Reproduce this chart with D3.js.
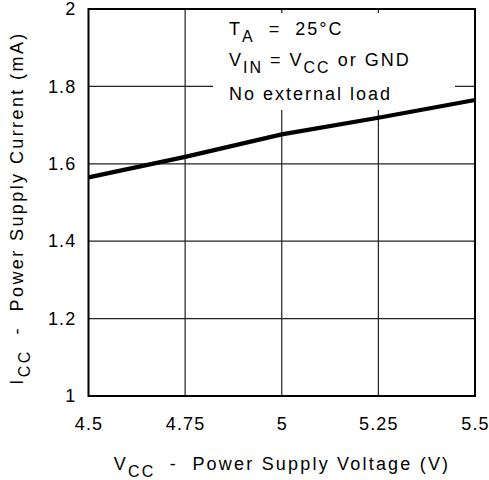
<!DOCTYPE html>
<html>
<head>
<meta charset="utf-8">
<script src="https://cdn.jsdelivr.net/npm/d3@7"></script>
<style>
  body { margin: 0; background: #fff; }
  text { font-family: 'Liberation Sans', Arial, sans-serif; fill: #000; white-space: pre; }
</style>
</head>
<body>
<svg id="chart" width="489" height="480"></svg>
<script>
// supply voltage (V) and supply current (mA)
const vcc = [4.5, 4.75, 5, 5.25, 5.5]
const icc = [1.565, 1.618, 1.676, 1.719, 1.765]

const xTicks = [4.5, 4.75, 5, 5.25, 5.5]
const yTicks = [1, 1.2, 1.4, 1.6, 1.8, 2]

const width = 489, height = 480
const margin = {top: 9, right: 14, bottom: 84, left: 88.5}

const svg = d3.select('#chart')

const x = d3.scaleLinear()
            .domain([4.5, 5.5])
            .range([margin.left, width - margin.right])

const y = d3.scaleLinear()
            .domain([1, 2])
            .range([height - margin.bottom, margin.top])

// grid
svg.append('g')
   .selectAll('line')
   .data(xTicks.slice(1, -1))
   .enter()
   .append('line')
   .attr('x1', d => x(d)).attr('x2', d => x(d))
   .attr('y1', y(1)).attr('y2', y(2))
   .attr('stroke', '#222').attr('stroke-width', 1.2)

svg.append('g')
   .selectAll('line')
   .data(yTicks.slice(1, -1))
   .enter()
   .append('line')
   .attr('x1', x(4.5)).attr('x2', x(5.5))
   .attr('y1', d => y(d)).attr('y2', d => y(d))
   .attr('stroke', '#222').attr('stroke-width', 1.2)

// white box behind the conditions text
svg.append('rect')
   .attr('x', 213).attr('y', 13)
   .attr('width', 242).attr('height', 97)
   .attr('fill', '#fff')

const note = svg.append('g').attr('font-size', 18).attr('letter-spacing', 2)
const t1 = note.append('text').attr('x', 229).attr('y', 35)
t1.append('tspan').text('T')
t1.append('tspan').attr('font-size', 16).attr('dy', 7).text('A')
t1.append('tspan').attr('dy', -7).text('  =  25°C')

const t2 = note.append('text').attr('x', 229).attr('y', 66)
t2.append('tspan').text('V')
t2.append('tspan').attr('font-size', 16).attr('dy', 7).text('IN')
t2.append('tspan').attr('dy', -7).text(' = V')
t2.append('tspan').attr('font-size', 16).attr('dy', 7).text('CC')
t2.append('tspan').attr('dy', -7).text(' or GND')

note.append('text').attr('x', 229).attr('y', 100).text('No external load')

// curve
const line = d3.line()
               .x((d, i) => x(vcc[i]))
               .y(d => y(d))

svg.append('path')
   .datum(icc)
   .attr('d', line)
   .attr('fill', 'none')
   .attr('stroke', '#000')
   .attr('stroke-width', 4.2)

// frame
svg.append('rect')
   .attr('x', x(4.5)).attr('y', y(2))
   .attr('width', x(5.5) - x(4.5)).attr('height', y(1) - y(2))
   .attr('fill', 'none').attr('stroke', '#000').attr('stroke-width', 2)

// axes (labels only)
const xAxis = d3.axisBottom(x).tickValues(xTicks).tickSize(0).tickPadding(21)
                .tickFormat(d => String(d))
const yAxis = d3.axisLeft(y).tickValues(yTicks).tickSize(0).tickPadding(12)
                .tickFormat(d => String(d))

const gx = svg.append('g')
              .attr('transform', 'translate(0,' + y(1) + ')')
              .call(xAxis)
const gy = svg.append('g')
              .attr('transform', 'translate(' + x(4.5) + ',0)')
              .call(yAxis)
;[gx, gy].forEach(g => {
    g.select('.domain').remove()
    g.selectAll('text').attr('font-size', 18).attr('font-family', null).attr('letter-spacing', 1.2)
})

// axis titles
const xt = svg.append('text')
              .attr('x', 282).attr('y', 470)
              .attr('text-anchor', 'middle')
              .attr('font-size', 18).attr('letter-spacing', 2.2)
xt.append('tspan').text('V')
xt.append('tspan').attr('font-size', 16).attr('dy', 7).text('CC')
xt.append('tspan').attr('dy', -7).text('  -  Power Supply Voltage (V)')

const yt = svg.append('text')
              .attr('transform', 'translate(23,208) rotate(-90)')
              .attr('text-anchor', 'middle')
              .attr('font-size', 18).attr('letter-spacing', 2.4)
yt.append('tspan').text('I')
yt.append('tspan').attr('font-size', 16).attr('dy', 7).text('CC')
yt.append('tspan').attr('dy', -7).text('  -  Power Supply Current (mA)')
</script>
</body>
</html>
